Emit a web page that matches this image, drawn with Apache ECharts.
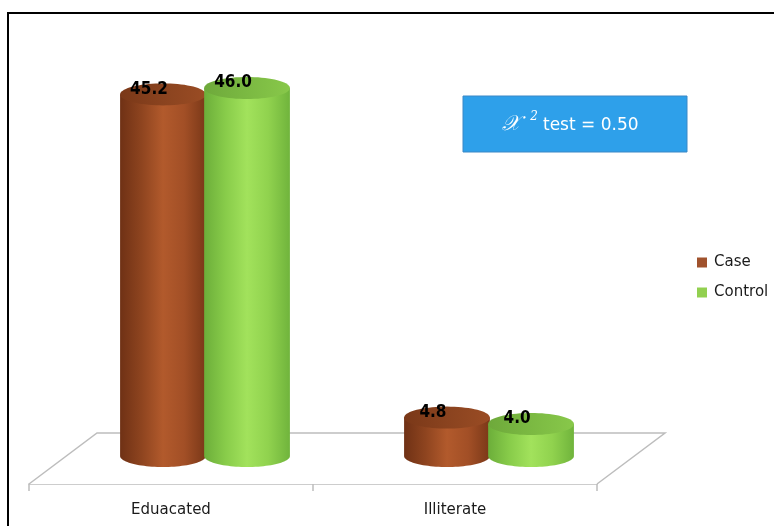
<!DOCTYPE html>
<html>
<head>
<meta charset="utf-8">
<script src="https://cdn.jsdelivr.net/npm/echarts@6/dist/echarts.min.js"></script>
<style>
  html, body { margin: 0; padding: 0; background: #ffffff; }
  #chart { width: 774px; height: 526px; }
</style>
</head>
<body>
<div id="chart"></div>
<script>
// Literacy status: percentage of cases and controls
const categories = ['Eduacated', 'Illiterate'];
const seriesNames = ['Case', 'Control'];
const caseValues = [45.2, 4.8];
const controlValues = [46.0, 4.0];
const chiSquare = 0.50;

// Colours for each series: legend key, cylinder body shading, cylinder cap
const palette = {
  Case: {
    key: '#a0522d',
    body: ['#6f3115', '#8e441f', '#b25a2c', '#a24f26', '#7a3818'],
    top: ['#7a3818', '#8a431f', '#9a4c24']
  },
  Control: {
    key: '#92d050',
    body: ['#6cae3a', '#88cc4a', '#a2e25c', '#90d24e', '#70b43c'],
    top: ['#6ea93b', '#7bb942', '#88c84a']
  }
};

// 3D floor geometry (pixels)
const FLOOR_DEPTH_Y = 51;
const FLOOR_SKEW_X = 68;
const CAP_RY = 11;

function gradient(stops) {
  const n = stops.length - 1;
  return new echarts.graphic.LinearGradient(0, 0, 1, 0,
    stops.map((c, i) => ({ offset: i / n, color: c })));
}

function ellipseArc(cx, cy, rx, ry, t0, t1, n) {
  const pts = [];
  for (let k = 0; k <= n; k++) {
    const t = t0 + (t1 - t0) * k / n;
    pts.push([cx + rx * Math.cos(t), cy + ry * Math.sin(t)]);
  }
  return pts;
}

// Draws one cylinder per data item; side = -1 (left of cluster) or +1 (right)
function cylinderRenderer(name, side) {
  const pal = palette[name];
  return function (params, api) {
    const idx = api.value(0);
    const val = api.value(1);
    const band = api.size([1, 0])[0];
    const base = api.coord([idx, 0]);
    const top = api.coord([idx, val]);
    const cx = base[0] + FLOOR_SKEW_X / 2 + side * band * 0.148;
    const rx = band * 0.151;
    const ry = CAP_RY;

    const body = [[cx - rx, top[1]]]
      .concat(ellipseArc(cx, base[1], rx, ry, Math.PI, 0, 48))
      .concat([[cx + rx, top[1]]]);
    const cap = ellipseArc(cx, top[1], rx, ry, 0, Math.PI * 2, 72);

    return {
      type: 'group',
      children: [
        {
          type: 'polygon',
          shape: { points: body },
          style: { fill: gradient(pal.body) }
        },
        {
          type: 'polygon',
          shape: { points: cap },
          style: { fill: gradient(pal.top) }
        },
        {
          type: 'text',
          x: cx - 14,
          y: top[1] - 5,
          z2: 20,
          style: {
            text: val.toFixed(1),
            font: 'bold 17px "DejaVu Sans Condensed", "Liberation Sans Narrow", "Liberation Sans", sans-serif',
            fill: '#000000',
            align: 'center',
            verticalAlign: 'middle',
            textAlign: 'center',
            textVerticalAlign: 'middle'
          }
        }
      ]
    };
  };
}

function floorRenderer(params, api) {
  const cs = params.coordSys;
  const x0 = cs.x, x1 = cs.x + cs.width;
  const yf = cs.y + cs.height;
  const yb = yf - FLOOR_DEPTH_Y;
  return {
    type: 'group',
    children: [
      {
        type: 'polygon',
        shape: { points: [[x0, yf], [x1, yf], [x1 + FLOOR_SKEW_X, yb], [x0 + FLOOR_SKEW_X, yb]] },
        style: { fill: '#ffffff' }
      },
      {
        type: 'polyline',
        shape: { points: [[x0, yf], [x0 + FLOOR_SKEW_X, yb], [x1 + FLOOR_SKEW_X, yb], [x1, yf]] },
        style: { stroke: '#bdbdbd', lineWidth: 1.5, fill: null }
      }
    ]
  };
}

const chart = echarts.init(document.getElementById('chart'), null, { renderer: 'canvas' });

chart.setOption({
  backgroundColor: '#ffffff',
  animation: false,
  grid: { left: 29, right: 177, top: 56, bottom: 42 },
  xAxis: {
    type: 'category',
    data: categories,
    boundaryGap: true,
    axisLine: { show: true, onZero: false, lineStyle: { color: '#bdbdbd', width: 1.5 } },
    axisTick: { show: true, alignWithLabel: false, interval: 0, length: 7, lineStyle: { color: '#bdbdbd', width: 1.5 } },
    axisLabel: {
      margin: 19,
      color: '#1a1a1a',
      fontSize: 15,
      fontFamily: '"DejaVu Sans", sans-serif'
    }
  },
  yAxis: {
    type: 'value',
    min: -3.5,
    max: 50,
    show: false,
    splitLine: { show: false }
  },
  legend: {
    data: seriesNames,
    orient: 'vertical',
    left: 692,
    top: 250,
    itemWidth: 10,
    itemHeight: 10,
    itemGap: 15,
    icon: 'rect',
    textStyle: { color: '#1a1a1a', fontSize: 15, fontFamily: '"DejaVu Sans", sans-serif', padding: [0, 0, 0, 2] }
  },
  graphic: [
    {
      type: 'rect',
      shape: { x: 8, y: 13, width: 820, height: 600 },
      style: { fill: null, stroke: '#000000', lineWidth: 2 },
      silent: true
    },
    {
      type: 'rect',
      shape: { x: 463, y: 96, width: 224, height: 56 },
      style: { fill: '#2ea0ea', stroke: '#3a88c6', lineWidth: 1 }
    },
    {
      type: 'text',
      x: 511, y: 125,
      style: {
        text: '𝒳',
        font: 'italic 21px "DejaVu Serif", "Liberation Serif", serif',
        fill: '#ffffff', align: 'center', verticalAlign: 'middle'
      }
    },
    {
      type: 'text',
      x: 534, y: 117,
      style: {
        text: '2',
        font: 'italic 12px "DejaVu Serif", "Liberation Serif", serif',
        fill: '#ffffff', align: 'center', verticalAlign: 'middle'
      }
    },
    {
      type: 'text',
      x: 543, y: 126,
      style: {
        text: 'test = ' + chiSquare.toFixed(2),
        font: '17px "DejaVu Sans", sans-serif',
        fill: '#ffffff', align: 'left', verticalAlign: 'middle'
      }
    }
  ],
  series: [
    {
      type: 'custom',
      name: 'floor',
      silent: true,
      renderItem: floorRenderer,
      data: [[0, 0]],
      encode: { x: 0, y: 1 }
    },
    {
      type: 'custom',
      name: seriesNames[0],
      itemStyle: { color: palette.Case.key },
      renderItem: cylinderRenderer('Case', -1),
      data: caseValues.map((v, i) => [i, v]),
      encode: { x: 0, y: 1 }
    },
    {
      type: 'custom',
      name: seriesNames[1],
      itemStyle: { color: palette.Control.key },
      renderItem: cylinderRenderer('Control', 1),
      data: controlValues.map((v, i) => [i, v]),
      encode: { x: 0, y: 1 }
    }
  ]
});
</script>
</body>
</html>
